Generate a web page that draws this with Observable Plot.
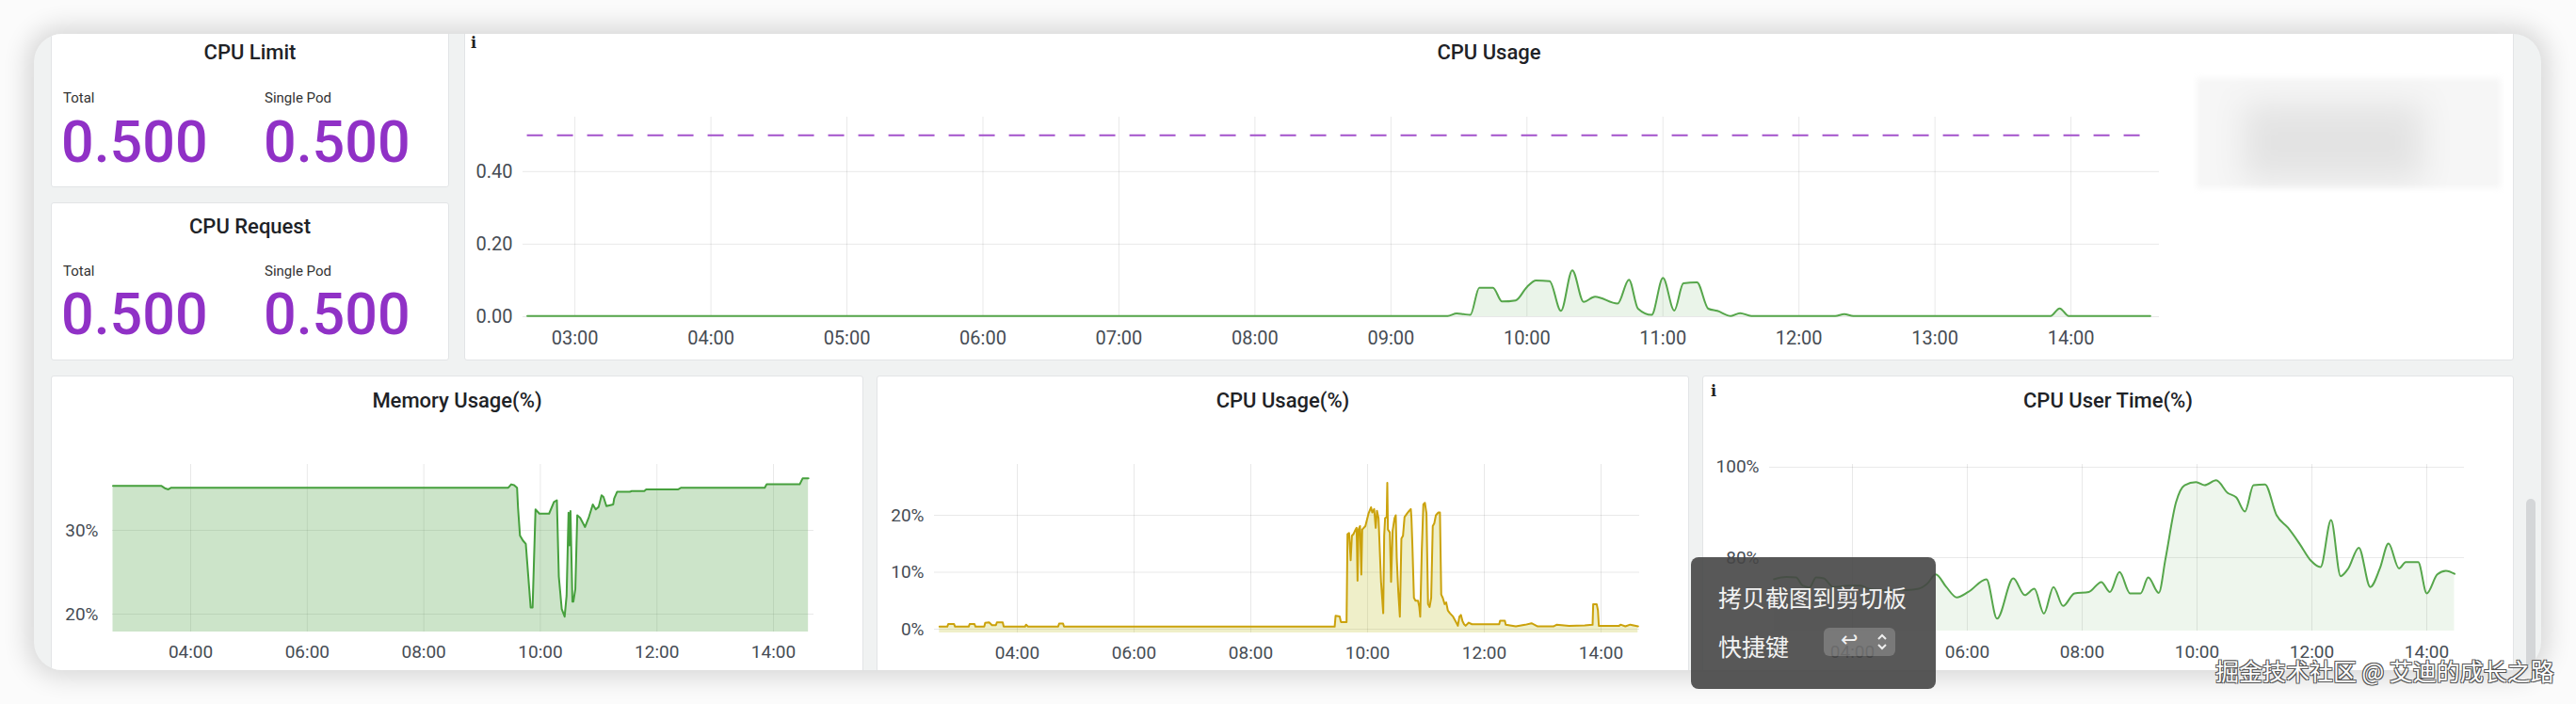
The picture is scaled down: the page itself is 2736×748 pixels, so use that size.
<!DOCTYPE html>
<html><head><meta charset="utf-8">
<script src="https://cdn.jsdelivr.net/npm/d3@7"></script>
<script src="https://cdn.jsdelivr.net/npm/@observablehq/plot@0.6"></script>
<style>
html,body{margin:0;padding:0}
body{width:2736px;height:748px;background:#fbfbfb;overflow:hidden;position:relative;font-family:Roboto,"Noto Sans",sans-serif}
#card{position:absolute;left:36px;top:36px;width:2663px;height:676px;background:#f0f2f2;border-radius:30px;box-shadow:0 0 26px 8px rgba(0,0,0,0.14);overflow:hidden}
.panel{position:absolute;background:#fff;border:1px solid #e2e4e6;border-radius:3px;box-sizing:border-box}
.abs{position:absolute}
#popup{position:absolute;left:1796px;top:592px;width:260px;height:140px;background:rgba(70,70,70,0.9);border-radius:8px;z-index:10}
.pt{position:absolute;color:#f2f2f2;font-family:"Noto Sans CJK SC",sans-serif;font-size:25px;line-height:1;white-space:nowrap}
#key{position:absolute;left:141px;top:75px;width:76px;height:30px;background:rgba(255,255,255,0.2);border-radius:6px}
#wm{position:absolute;left:2353px;top:697px;font-family:"Noto Sans CJK SC",sans-serif;font-size:25px;line-height:30px;color:#fff;white-space:nowrap;z-index:11;
text-shadow:1px 1px 0 #555,-1px -1px 0 #555,1px -1px 0 #555,-1px 1px 0 #555}
</style></head>
<body>
<div id="card"></div>
<div id="popup">
  <div class="pt" style="left:29px;top:30px">拷贝截图到剪切板</div>
  <div class="pt" style="left:29px;top:82px">快捷键</div>
  <div id="key">
    <div class="pt" style="left:18px;top:2px;font-family:'DejaVu Sans';font-size:22px">↩</div>
    <svg class="abs" style="left:56px;top:5px" width="12" height="20"><polyline points="2,7 6,3 10,7" fill="none" stroke="#eee" stroke-width="2"/><polyline points="2,13 6,17 10,13" fill="none" stroke="#eee" stroke-width="2"/></svg>
  </div>
</div>
<div id="wm">掘金技术社区 @ 艾迪的成长之路</div>
<script>
// ---------- data ----------
const cpuLimitTotal = 0.5, cpuLimitPod = 0.5;
const cpuRequestTotal = 0.5, cpuRequestPod = 0.5;
const cpuLimitLine = 0.5;

const cpuUsageTimes = ["02:39","09:25","09:29","09:32","09:35","09:39","09:45","09:49","09:55","10:00","10:04","10:10","10:15","10:20","10:25","10:30","10:40","10:45","10:49","10:55","11:00","11:05","11:09","11:15","11:20","11:24","11:30","11:34","11:39","12:16","12:20","12:24","13:51","13:55","13:59","14:35"];
const cpuUsageValues = [0.002,0.002,0.009,0.007,0.005,0.080,0.080,0.042,0.045,0.082,0.100,0.098,0.016,0.128,0.041,0.055,0.036,0.102,0.022,0.005,0.107,0.017,0.092,0.095,0.022,0.016,0.002,0.010,0.002,0.002,0.007,0.002,0.002,0.023,0.002,0.002];
const cpuUsageTicks = ["03:00","04:00","05:00","06:00","07:00","08:00","09:00","10:00","11:00","12:00","13:00","14:00"];
const cpuUsageYTicks = [0, 0.2, 0.4];

const memTimes = ["02:40","03:30","03:34","03:37","03:40","09:27","09:30","09:33","09:36","09:37","09:39","09:42","09:45","09:50","09:52","09:55","09:59","10:09","10:14","10:17","10:19","10:22","10:25","10:27","10:29","10:30","10:31","10:33","10:34","10:36","10:38","10:41","10:46","10:50","10:54","10:57","11:00","11:03","11:05","11:08","11:15","11:16","11:19","11:32","11:34","11:47","11:49","12:22","12:25","13:51","13:53","14:27","14:30","14:36"];
const memValues = [35.3,35.3,35.0,34.9,35.1,35.1,35.5,35.4,35.1,32.7,29.4,28.8,28.4,20.8,20.8,32.5,32.0,32.0,33.4,33.6,24.5,20.6,19.7,22.2,32.1,28.2,32.3,21.5,21.5,23.0,31.8,31.5,30.4,31.6,33.1,32.5,32.8,34.2,34.0,32.9,33.1,33.8,34.6,34.6,34.7,34.7,34.9,34.9,35.1,35.1,35.5,35.5,36.2,36.2];

const cpuPctTimes = ["02:40","02:48","02:49","02:55","02:56","03:10","03:11","03:16","03:17","03:26","03:27","03:31","03:34","03:38","03:39","03:45","03:46","04:08","04:09","04:11","04:42","04:43","04:47","04:48","09:26:11",
"09:27:09","09:31:20","09:32:37","09:38:25","09:39:23","09:41:00","09:42:37","09:43:54","09:45:30","09:47:07","09:48:44","09:49:41","09:50:40","09:52:16","09:53:34","09:54:31","09:57:45",
"10:00:58","10:03:33","10:04:50","10:06:46","10:08:22","10:09:40","10:11:16","10:13:51","10:16:06","10:17:04","10:18:02","10:19:39","10:20:17","10:20:56","10:22:52","10:24:10","10:25:46","10:27:42","10:28:59","10:29:58",
"10:31:34","10:33:11","10:34:47","10:36:24","10:38:01","10:40:35","10:42:50","10:44:27","10:45:06","10:46:04","10:47:40","10:49:17","10:51:52","10:53:09","10:54:07","10:55:43","10:57:20","10:58:56",
"11:00:33","11:02:10","11:03:47","11:05:23","11:07:00","11:08:36","11:10:12","11:12:48","11:14:24","11:15:42","11:17:18","11:19:14","11:20:50","11:22:30","11:24:42","11:27:54","11:31:12","11:32:48","11:34:24","11:36:00","11:37:36","11:39:12","11:40:48","11:44:00","11:47:18",
"12:15:18","12:16:12","12:21:06","12:22:00","12:32:24","12:42:00","12:48:30","12:54:54","13:11:00","13:14:12","13:27:06","13:43:12","13:51:18","13:51:54","13:55:30","13:56:48","13:57:42","14:18:36","14:20","14:25","14:30","14:38"];
const cpuPctValues = [0.45,0.45,0.9,0.9,0.45,0.45,0.9,0.9,0.45,0.45,1.1,1.2,0.7,0.7,1.2,1.2,0.45,0.45,0.8,0.45,0.45,1.0,1.0,0.45,0.44,
2.35,2.24,1.26,1.26,16.7,16.9,12.1,16.4,16.7,17.3,17.8,8.5,17.5,18.1,9.6,17.5,18.1,
20.3,21.4,20.5,21.1,17.8,20.8,19.5,8.3,2.8,16.4,19.5,19.7,25.7,17.5,17.0,8.3,17.3,19.5,20.0,12.6,
6.6,2.2,15.9,16.4,19.7,20.3,20.8,21.1,19.5,14.8,5.5,5.0,5.0,3.9,2.2,13.7,21.9,22.2,
20.3,4.4,3.9,5.5,18.1,18.6,20.0,20.5,20.5,6.1,5.5,4.4,4.7,3.3,2.8,2.2,1.15,0.6,2.2,2.5,1.4,0.87,0.6,1.15,0.87,
0.87,1.5,1.5,0.77,0.49,0.77,1.04,0.49,0.49,0.77,0.6,0.66,0.77,4.4,4.4,3.3,0.6,0.6,0.8,0.5,0.8,0.5];

const userTimes = ["02:38","02:51","03:01","03:08","03:15","03:22","03:30","03:40","03:56","04:09","04:16","04:29","04:55","05:09","05:18","05:27","05:38","05:49","06:01","06:20","06:31","06:48","07:00","07:10","07:20","07:30","07:40","07:52","08:07","08:20","08:29","08:39","08:50","09:01","09:09","09:20","09:27","09:38","09:47","09:59","10:08","10:20","10:32","10:41","10:50","10:59","11:11","11:23","11:35","11:47","11:59","12:09","12:20","12:30","12:38","12:49","13:01","13:11","13:20","13:31","13:38","13:51","14:00","14:11","14:20","14:29"];
const userValues = [75.2,75.7,75.6,73.8,73.4,75.6,75.4,73.5,73.8,73.8,73.1,72.8,72.8,73.1,74.2,76.3,73.5,71.2,72.4,75.2,66.5,75.4,71.7,73.1,67.6,73.5,69.3,72.1,72.4,74.6,72.4,76.8,72.1,72.1,75.6,72.2,79.7,92.2,96.0,96.7,96.0,97.1,94.3,93.3,90.2,96.0,96.2,89.4,86.6,83.1,79.3,77.9,88.3,75.9,77.6,82.2,73.5,77.6,83.1,77.6,79.0,79.0,72.1,76.3,77.1,76.4];

const bottomTicks = ["04:00","06:00","08:00","10:00","12:00","14:00"];
const memYTicks = [20, 30];
const cpuPctYTicks = [0, 10, 20];
const userYTicks = [80, 100];

// ---------- helpers ----------
const parse = s => { const [h,m,sec] = s.split(":").map(Number); return new Date(2024,0,1,h,m,sec||0); };
const series = (times, values) => times.map((s,i) => ({t: parse(s), v: values[i]}));
const card = document.getElementById("card");
const OX = 36, OY = 36;
function put(el, x, y) { el.style.position = "absolute"; el.style.left = (x-OX)+"px"; el.style.top = (y-OY)+"px"; card.appendChild(el); return el; }
function panel(x, y, w, h) { const d = document.createElement("div"); d.className = "panel"; d.style.width = w+"px"; d.style.height = h+"px"; return put(d, x, y); }
const hm = d3.timeFormat("%H:%M");
const pct = d => d + "%";
const grid = {stroke: "#000", strokeOpacity: 0.09, strokeWidth: 1};

// ---------- panels ----------
panel(54, 28, 423, 171);
panel(54, 215, 423, 168);
panel(493, 28, 2177, 355);
panel(54, 399, 863, 330);
panel(931, 399, 863, 330);
panel(1808, 399, 862, 330);

// scrollbar thumb
{ const s = document.createElement("div"); s.style.cssText = "width:10px;height:185px;background:#d4d6d8;border-radius:5px"; put(s, 2683, 530); }

// blurred legend
{ const b = document.createElement("div"); b.style.cssText = "width:323px;height:117px;background:#f6f6f6;filter:blur(3px);overflow:hidden";
  const c = document.createElement("div"); c.style.cssText = "position:absolute;left:50px;top:28px;width:190px;height:80px;background:#e3e3e3;filter:blur(16px)"; b.appendChild(c);
  put(b, 2333, 83); }

// ---------- static texts (SVG) ----------
const NS = "http://www.w3.org/2000/svg";
const txt = document.createElementNS(NS, "svg");
txt.setAttribute("width", 2663); txt.setAttribute("height", 676);
txt.style.position = "absolute"; txt.style.left = "0px"; txt.style.top = "0px"; txt.style.overflow = "visible";
card.appendChild(txt);
function T(s, x, y, opt = {}) {
  const t = document.createElementNS(NS, "text");
  t.setAttribute("x", x-OX); t.setAttribute("y", y-OY);
  t.setAttribute("font-family", opt.family || "Roboto");
  t.setAttribute("font-size", opt.size || 22);
  t.setAttribute("font-weight", opt.weight || 500);
  t.setAttribute("fill", opt.fill || "#202226");
  t.setAttribute("text-anchor", opt.anchor || "middle");
  t.textContent = s; txt.appendChild(t);
}
const f3 = d3.format(".3f");
const purple = "#9031c6";
T("CPU Limit", 265.5, 63);
T("Total", 67, 109, {size: 15, weight: 400, anchor: "start", fill: "#333"});
T("Single Pod", 281, 109, {size: 15, weight: 400, anchor: "start", fill: "#333"});
T(f3(cpuLimitTotal), 65, 172, {size: 61, weight: 500, anchor: "start", fill: purple});
T(f3(cpuLimitPod), 280, 172, {size: 61, weight: 500, anchor: "start", fill: purple});
T("CPU Request", 265.5, 248);
T("Total", 67, 293, {size: 15, weight: 400, anchor: "start", fill: "#333"});
T("Single Pod", 281, 293, {size: 15, weight: 400, anchor: "start", fill: "#333"});
T(f3(cpuRequestTotal), 65, 355, {size: 61, weight: 500, anchor: "start", fill: purple});
T(f3(cpuRequestPod), 280, 355, {size: 61, weight: 500, anchor: "start", fill: purple});
T("CPU Usage", 1581.5, 63);
T("Memory Usage(%)", 485.5, 433);
T("CPU Usage(%)", 1362.5, 433);
T("CPU User Time(%)", 2239, 433);
T("i", 503, 51, {family: "DejaVu Serif", size: 16, weight: 700, fill: "#222"});
T("i", 1820, 421, {family: "DejaVu Serif", size: 16, weight: 700, fill: "#222"});

// ---------- charts ----------
const style = {fontFamily: "Roboto", fontSize: "20px", color: "#464c54", background: "transparent", overflow: "visible"};

// CPU Usage (top)
const cpu = series(cpuUsageTimes, cpuUsageValues);
const cpuTicks = cpuUsageTicks.map(parse);
const topChart = Plot.plot({
  width: 1810, height: 266, marginLeft: 62, marginRight: 10, marginTop: 14, marginBottom: 40,
  style,
  x: {type: "time", domain: [parse("02:37:06"), parse("14:39:00")]},
  y: {domain: [0, 0.55]},
  marks: [
    Plot.gridX(cpuTicks, grid),
    Plot.gridY(cpuUsageYTicks, grid),
    Plot.areaY(cpu, {x: "t", y: "v", fill: "#56A64B", fillOpacity: 0.12, curve: "monotone-x"}),
    Plot.lineY(cpu, {x: "t", y: "v", stroke: "#56A64B", strokeWidth: 2, curve: "monotone-x"}),
    Plot.ruleY([cpuLimitLine], {x1: cpu[0].t, x2: cpu[cpu.length-1].t, stroke: "#A352CC", strokeWidth: 2, strokeDasharray: "17,15"}),
    Plot.axisX(cpuTicks, {tickSize: 0, tickPadding: 15, tickFormat: hm, label: null}),
    Plot.axisY(cpuUsageYTicks, {tickSize: 0, tickPadding: 11, tickFormat: d3.format(".2f"), label: null})
  ]
});
put(topChart, 493, 110);

const bTicks = bottomTicks.map(parse);
const bstyle = {...style, fontSize: "19px"};

// Memory
const mem = series(memTimes, memValues);
const memDomain = [17.87, 37.87];
const memChart = Plot.plot({
  width: 820, height: 241, marginLeft: 65, marginRight: 10, marginTop: 23, marginBottom: 40,
  style: bstyle,
  x: {type: "time", domain: [parse("02:39:30"), parse("14:41:40")]},
  y: {domain: memDomain},
  marks: [
    Plot.gridX(bTicks, grid),
    Plot.gridY(memYTicks, grid),
    Plot.areaY(mem, {x: "t", y1: memDomain[0], y2: "v", fill: "#56A64B", fillOpacity: 0.3}),
    Plot.lineY(mem, {x: "t", y: "v", stroke: "#46a03d", strokeWidth: 2}),
    Plot.axisX(bTicks, {tickSize: 0, tickPadding: 14, tickFormat: hm, label: null}),
    Plot.axisY(memYTicks, {tickSize: 0, tickPadding: 15, tickFormat: pct, label: null})
  ]
});
put(memChart, 54, 470);

// CPU Usage (%)
const cpuPct = series(cpuPctTimes, cpuPctValues);
const pctDomain = [-0.66, 28.93];
const pctChart = Plot.plot({
  width: 820, height: 242, marginLeft: 61, marginRight: 10, marginTop: 23, marginBottom: 40,
  style: bstyle,
  x: {type: "time", domain: [parse("02:34:50"), parse("14:39:40")]},
  y: {domain: pctDomain},
  marks: [
    Plot.gridX(bTicks, grid),
    Plot.gridY(cpuPctYTicks, grid),
    Plot.areaY(cpuPct, {x: "t", y1: pctDomain[0], y2: "v", fill: "#bebe28", fillOpacity: 0.25}),
    Plot.lineY(cpuPct, {x: "t", y: "v", stroke: "#cba20c", strokeWidth: 2}),
    Plot.axisX(bTicks, {tickSize: 0, tickPadding: 14, tickFormat: hm, label: null}),
    Plot.axisY(cpuPctYTicks, {tickSize: 0, tickPadding: 11, tickFormat: pct, label: null})
  ]
});
put(pctChart, 931, 470);

// CPU User Time (%)
const user = series(userTimes, userValues);
const userDomain = [63.75, 100.6];
const userChart = Plot.plot({
  width: 819, height: 240, marginLeft: 71, marginRight: 10, marginTop: 23, marginBottom: 40,
  style: bstyle,
  x: {type: "time", domain: [parse("02:33:25"), parse("14:39:20")]},
  y: {domain: userDomain},
  marks: [
    Plot.gridX(bTicks, grid),
    Plot.gridY(userYTicks, grid),
    Plot.areaY(user, {x: "t", y1: userDomain[0], y2: "v", fill: "#56A64B", fillOpacity: 0.1, curve: "monotone-x"}),
    Plot.lineY(user, {x: "t", y: "v", stroke: "#56A64B", strokeWidth: 2, curve: "monotone-x"}),
    Plot.axisX(bTicks, {tickSize: 0, tickPadding: 15, tickFormat: hm, label: null}),
    Plot.axisY(userYTicks, {tickSize: 0, tickPadding: 11, tickFormat: pct, label: null})
  ]
});
put(userChart, 1808, 470);
</script>
</body></html>
